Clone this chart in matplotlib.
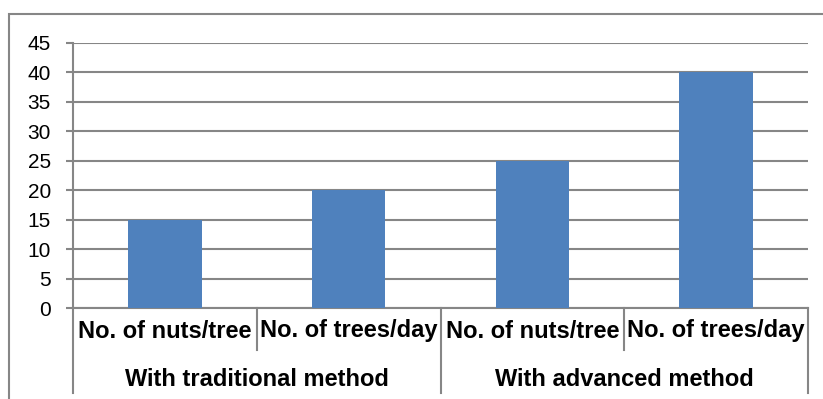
import matplotlib.pyplot as plt
from matplotlib.patches import Rectangle
from matplotlib.transforms import blended_transform_factory

plt.rcParams["font.family"] = ["Liberation Sans", "DejaVu Sans"]

measures = ["No. of nuts/tree", "No. of trees/day", "No. of nuts/tree", "No. of trees/day"]
methods = ["With traditional method", "With advanced method"]
values = [15, 20, 25, 40]

W, H = 823, 399
grid_color = "#868686"
bar_color = "#4F81BD"

fig = plt.figure(figsize=(W / 100, H / 100), dpi=100)

# Outer chart border (runs off the right and bottom edges)
fig.patches.append(Rectangle((9 / W, -0.1), 1.2, (H - 14) / H + 0.1,
                             transform=fig.transFigure, fill=False,
                             edgecolor=grid_color, linewidth=1.5))

left, right, top, bottom = 73, 808, 43, 308
ax = fig.add_axes([left / W, (H - bottom) / H, (right - left) / W, (bottom - top) / H])

x = range(len(values))
ax.bar(x, values, width=0.4, color=bar_color, zorder=3)

ax.set_xlim(-0.5, len(values) - 0.5)
ax.set_ylim(0, 45)
ax.set_yticks(range(0, 46, 5))
ax.yaxis.grid(True, color=grid_color, linewidth=1.5)
ax.set_axisbelow(True)
ax.tick_params(axis="y", length=5, width=1.5, color=grid_color, labelsize=15, pad=11)
ax.set_xticks([])

for side in ["top", "right"]:
    ax.spines[side].set_visible(False)
for side in ["left", "bottom"]:
    ax.spines[side].set_color(grid_color)
    ax.spines[side].set_linewidth(1.5)

# Two-level category axis drawn below the plot
trans = blended_transform_factory(ax.transData, ax.transAxes)
row1 = -(331 - bottom) / (bottom - top)
row2 = -(380 - bottom) / (bottom - top)
short_end = -(350 - bottom) / (bottom - top)
long_end = -(393 - bottom) / (bottom - top)

for i, label in enumerate(measures):
    ax.text(i, row1, label, transform=trans, ha="center", va="center",
            fontsize=17, fontweight="bold")

for j, label in enumerate(methods):
    ax.text(2 * j + 0.5, row2, label, transform=trans, ha="center", va="center",
            fontsize=17, fontweight="bold")

for k in range(len(values) + 1):
    end = long_end if k % 2 == 0 else short_end
    ax.plot([k - 0.5, k - 0.5], [0, end], transform=trans, color=grid_color,
            linewidth=1.5, clip_on=False)

fig.savefig("out.png", dpi=100)
